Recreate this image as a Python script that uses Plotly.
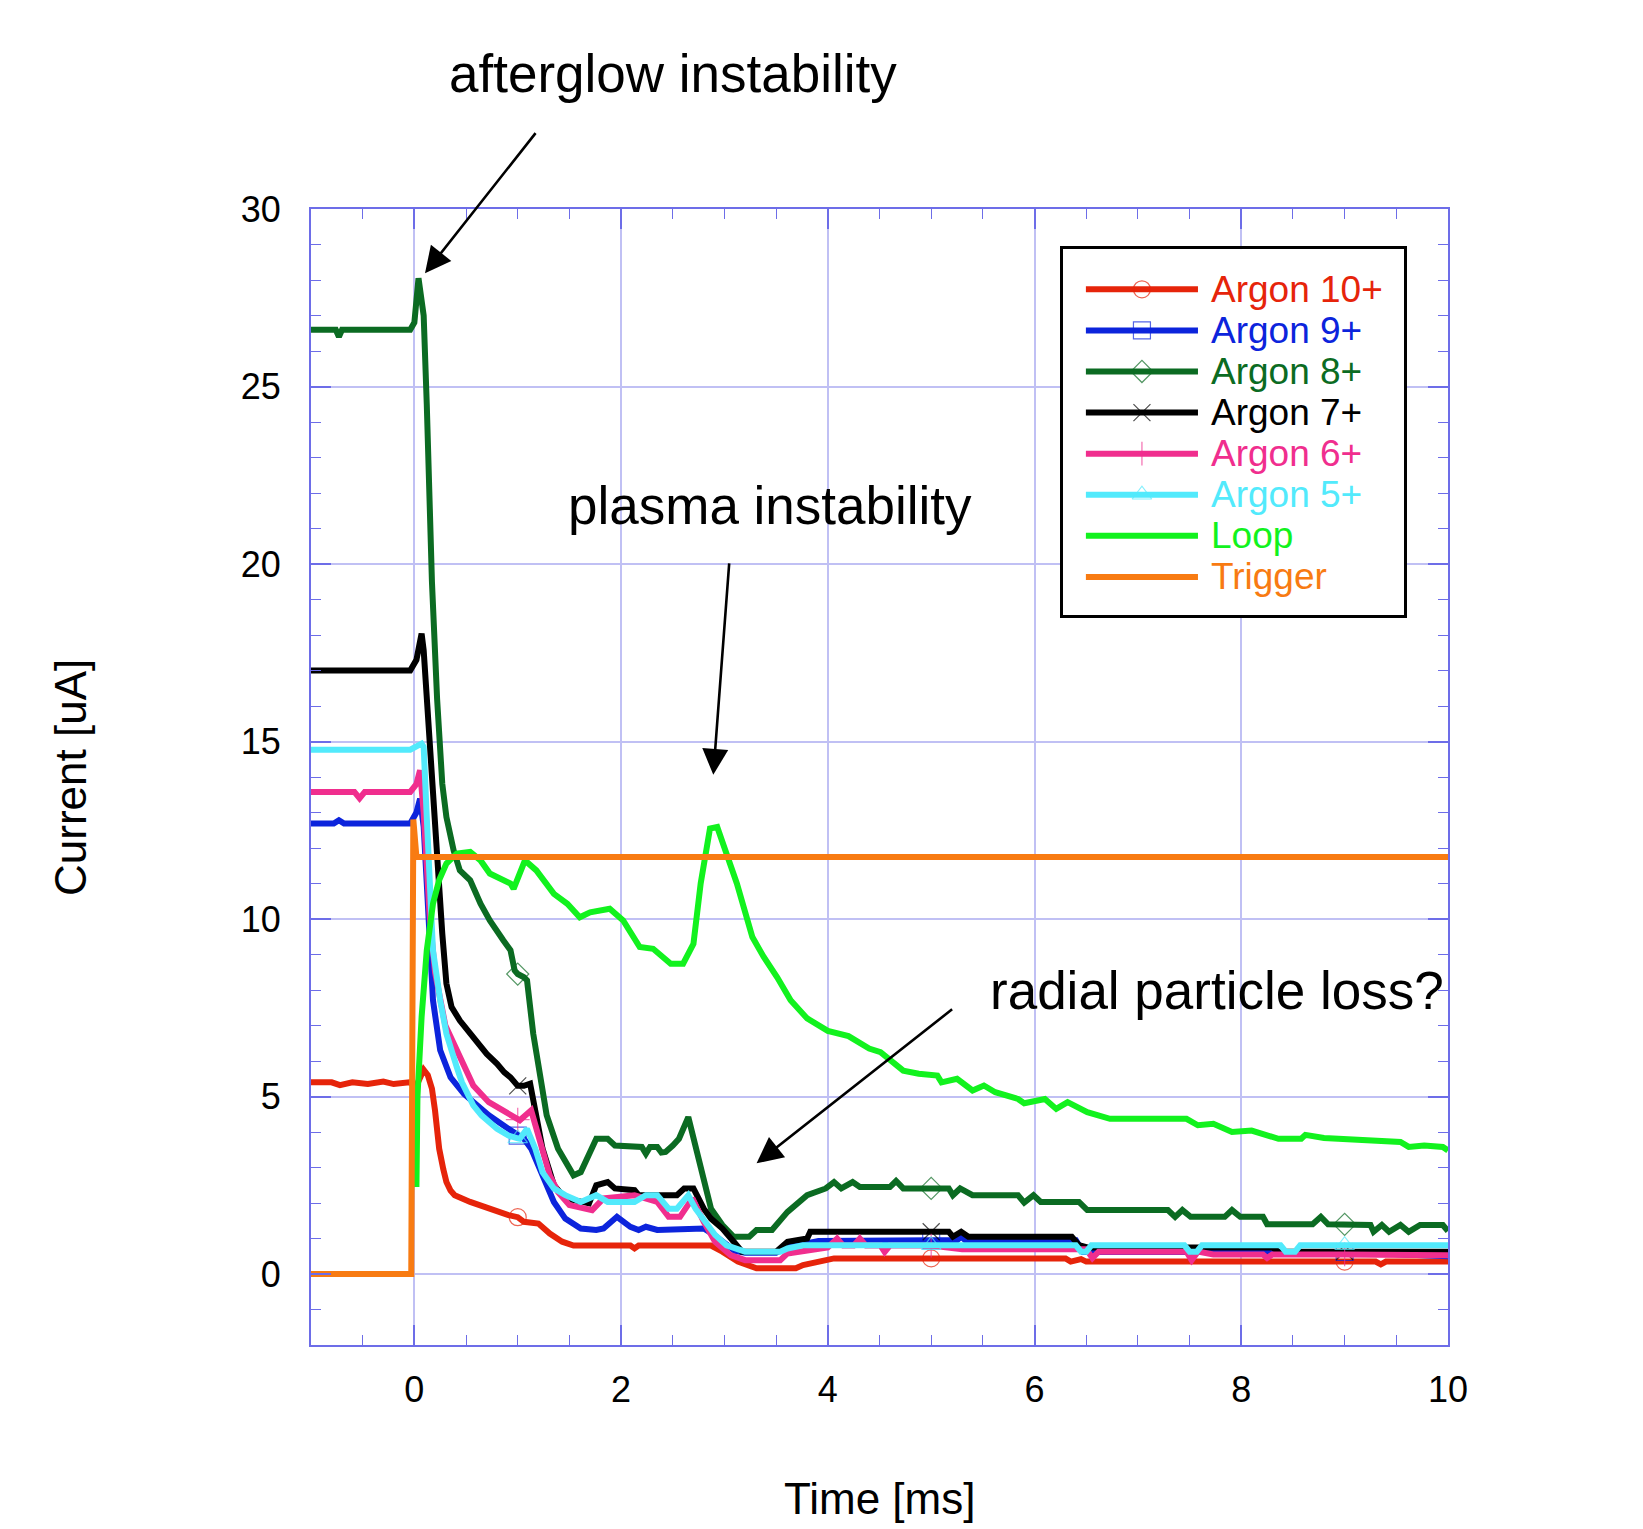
import plotly.graph_objects as go

# ---------------- data (time in ms, current in uA) ----------------
argon10 = [(-1.0, 5.40), (-0.8, 5.40), (-0.72, 5.32), (-0.6, 5.40), (-0.45, 5.35), (-0.3, 5.42),
           (-0.2, 5.35), (-0.05, 5.40), (0.02, 5.30), (0.09, 5.75), (0.13, 5.60), (0.17, 5.22),
           (0.20, 4.60), (0.24, 3.53), (0.28, 2.95), (0.31, 2.59), (0.35, 2.35), (0.39, 2.22),
           (0.54, 2.03), (0.72, 1.84), (0.91, 1.66), (1.0, 1.60), (1.06, 1.47), (1.20, 1.42),
           (1.31, 1.14), (1.43, 0.91), (1.54, 0.80), (2.09, 0.80), (2.13, 0.72), (2.17, 0.80),
           (2.87, 0.80), (2.98, 0.63), (3.13, 0.35), (3.31, 0.16), (3.69, 0.16), (3.76, 0.25),
           (3.91, 0.35), (4.06, 0.44), (5.0, 0.44), (6.30, 0.44), (6.35, 0.35), (6.45, 0.42),
           (6.50, 0.35), (7.17, 0.35), (8.5, 0.35), (9.0, 0.35), (9.30, 0.35), (9.35, 0.27),
           (9.40, 0.35), (10.0, 0.35)]

argon9 = [(-1.0, 12.69), (-0.78, 12.69), (-0.73, 12.78), (-0.68, 12.69), (-0.04, 12.69),
          (0.02, 13.0), (0.055, 13.39), (0.09, 12.6), (0.12, 11.0), (0.15, 9.12), (0.18, 7.71),
          (0.25, 6.30), (0.35, 5.54), (0.48, 5.07), (0.54, 4.93), (0.72, 4.47), (0.91, 4.09),
          (1.0, 3.90), (1.06, 3.81), (1.13, 3.53), (1.24, 2.78), (1.35, 2.03), (1.46, 1.56),
          (1.61, 1.28), (1.76, 1.24), (1.83, 1.28), (1.96, 1.61), (2.09, 1.33), (2.17, 1.24),
          (2.24, 1.33), (2.35, 1.24), (2.69, 1.24), (2.80, 1.28), (2.90, 1.10), (3.0, 0.85),
          (3.10, 0.65), (3.20, 0.60), (3.50, 0.60), (3.60, 0.75), (3.80, 0.85), (3.91, 0.93),
          (5.0, 0.95), (5.25, 0.95), (5.29, 1.05), (5.33, 0.95), (6.40, 0.95), (6.47, 0.62),
          (9.0, 0.62), (9.5, 0.55), (10.0, 0.50)]

argon8 = [(-1.0, 26.6), (-0.76, 26.6), (-0.73, 26.4), (-0.70, 26.6), (-0.04, 26.6), (0.0, 26.8),
          (0.04, 28.05), (0.09, 27.0), (0.12, 24.5), (0.17, 19.5), (0.22, 16.2), (0.27, 13.81),
          (0.31, 12.87), (0.38, 11.93), (0.44, 11.37), (0.54, 11.09), (0.64, 10.43), (0.73, 9.96),
          (0.86, 9.40), (0.93, 9.12), (0.97, 8.55), (1.0, 8.45), (1.06, 8.36), (1.09, 8.27),
          (1.15, 6.77), (1.20, 5.80), (1.28, 4.47), (1.39, 3.53), (1.54, 2.78), (1.61, 2.87),
          (1.76, 3.81), (1.87, 3.81), (1.94, 3.62), (2.20, 3.58), (2.24, 3.39), (2.28, 3.58),
          (2.35, 3.58), (2.39, 3.42), (2.43, 3.44), (2.50, 3.62), (2.56, 3.81), (2.65, 4.42),
          (2.72, 3.62), (2.80, 2.59), (2.87, 1.84), (2.98, 1.38), (3.09, 1.05), (3.24, 1.05),
          (3.31, 1.24), (3.46, 1.24), (3.61, 1.75), (3.80, 2.22), (3.98, 2.41), (4.06, 2.59),
          (4.13, 2.41), (4.24, 2.59), (4.31, 2.45), (4.60, 2.45), (4.66, 2.62), (4.73, 2.41),
          (5.0, 2.41), (5.17, 2.41), (5.21, 2.22), (5.28, 2.41), (5.40, 2.22), (5.84, 2.22),
          (5.90, 2.01), (5.99, 2.22), (6.06, 2.03), (6.43, 2.03), (6.51, 1.80), (7.29, 1.80),
          (7.36, 1.61), (7.43, 1.80), (7.51, 1.61), (7.84, 1.61), (7.91, 1.80), (7.99, 1.61),
          (8.21, 1.61), (8.25, 1.40), (8.69, 1.40), (8.77, 1.61), (8.84, 1.40), (9.0, 1.40),
          (9.25, 1.38), (9.28, 1.19), (9.36, 1.38), (9.43, 1.19), (9.54, 1.38), (9.62, 1.19),
          (9.73, 1.38), (9.95, 1.38), (10.0, 1.21)]

argon7 = [(-1.0, 17.0), (-0.04, 17.0), (0.02, 17.3), (0.07, 18.04), (0.09, 17.57), (0.15, 14.75),
          (0.22, 11.93), (0.27, 9.59), (0.31, 8.18), (0.36, 7.52), (0.44, 7.14), (0.57, 6.67),
          (0.70, 6.20), (0.80, 5.92), (0.87, 5.68), (0.93, 5.54), (1.0, 5.30), (1.06, 5.30),
          (1.12, 5.36), (1.17, 4.60), (1.24, 3.53), (1.35, 2.50), (1.46, 2.13), (1.69, 1.99),
          (1.76, 2.50), (1.87, 2.59), (1.94, 2.41), (2.13, 2.36), (2.17, 2.22), (2.54, 2.22),
          (2.61, 2.41), (2.70, 2.41), (2.80, 1.84), (2.87, 1.56), (2.98, 1.28), (3.09, 0.91),
          (3.17, 0.63), (3.50, 0.63), (3.61, 0.91), (3.80, 1.00), (3.83, 1.19), (5.0, 1.19),
          (5.17, 1.19), (5.21, 1.05), (5.29, 1.19), (5.36, 1.05), (6.36, 1.05), (6.43, 0.81),
          (6.51, 0.75), (8.30, 0.75), (8.36, 0.63), (9.0, 0.63), (10.0, 0.63)]

argon6 = [(-1.0, 13.58), (-0.58, 13.58), (-0.53, 13.40), (-0.48, 13.58), (-0.04, 13.58),
          (0.02, 13.8), (0.055, 14.19), (0.09, 13.0), (0.15, 10.0), (0.20, 8.5), (0.30, 7.0),
          (0.41, 6.30), (0.54, 5.45), (0.57, 5.31), (0.72, 4.84), (0.87, 4.56), (1.0, 4.35),
          (1.02, 4.33), (1.13, 4.61), (1.20, 3.90), (1.31, 2.78), (1.39, 2.31), (1.50, 1.94),
          (1.72, 1.80), (1.83, 2.13), (2.13, 2.22), (2.35, 2.03), (2.46, 1.61), (2.57, 1.61),
          (2.69, 2.13), (2.80, 1.47), (2.91, 0.91), (3.06, 0.53), (3.20, 0.39), (3.54, 0.39),
          (3.61, 0.58), (3.83, 0.67), (4.0, 0.75), (4.09, 1.00), (4.15, 0.80), (4.25, 0.80),
          (4.31, 1.00), (4.37, 0.80), (4.51, 0.80), (4.55, 0.62), (4.60, 0.80), (5.0, 0.80),
          (5.30, 0.70), (6.50, 0.70), (6.56, 0.45), (6.62, 0.63), (7.47, 0.63), (7.52, 0.39),
          (7.58, 0.63), (7.73, 0.55), (8.21, 0.55), (8.25, 0.45), (8.30, 0.55), (9.0, 0.55),
          (10.0, 0.53)]

argon5 = [(-1.0, 14.77), (-0.04, 14.77), (0.07, 14.94), (0.09, 14.85), (0.12, 12.87),
          (0.15, 10.99), (0.18, 9.12), (0.25, 7.71), (0.31, 6.77), (0.41, 5.83), (0.46, 5.40),
          (0.57, 4.75), (0.65, 4.47), (0.80, 4.09), (0.91, 3.90), (1.0, 3.82), (1.02, 3.81),
          (1.09, 4.09), (1.17, 3.53), (1.24, 2.87), (1.35, 2.41), (1.46, 2.22), (1.61, 2.03),
          (1.76, 2.22), (1.87, 2.03), (2.13, 2.03), (2.24, 2.22), (2.35, 2.22), (2.46, 1.84),
          (2.54, 1.84), (2.65, 2.22), (2.72, 1.84), (2.83, 1.38), (2.91, 1.10), (3.02, 0.81),
          (3.20, 0.63), (3.54, 0.63), (3.61, 0.72), (3.76, 0.81), (5.0, 0.81), (6.40, 0.81),
          (6.45, 0.63), (6.50, 0.63), (6.55, 0.81), (7.45, 0.81), (7.50, 0.63), (7.57, 0.63),
          (7.62, 0.81), (8.38, 0.81), (8.43, 0.63), (8.52, 0.63), (8.57, 0.81), (9.0, 0.81),
          (10.0, 0.81)]

loop = [(0.02, 2.45), (0.03, 5.0), (0.07, 7.24), (0.12, 9.12), (0.18, 10.43), (0.24, 11.1),
        (0.31, 11.56), (0.41, 11.84), (0.54, 11.89), (0.64, 11.65), (0.73, 11.28), (0.93, 11.0),
        (0.96, 10.85), (1.07, 11.65), (1.18, 11.37), (1.35, 10.71), (1.48, 10.43), (1.60, 10.05),
        (1.70, 10.19), (1.89, 10.29), (2.02, 9.96), (2.18, 9.21), (2.31, 9.16), (2.48, 8.74),
        (2.60, 8.74), (2.70, 9.30), (2.77, 11.0), (2.86, 12.55), (2.93, 12.59), (3.02, 11.84),
        (3.12, 11.0), (3.27, 9.49), (3.38, 8.93), (3.51, 8.36), (3.64, 7.71), (3.80, 7.20),
        (4.0, 6.85), (4.20, 6.70), (4.40, 6.35), (4.51, 6.25), (4.73, 5.73), (4.88, 5.64),
        (5.06, 5.59), (5.10, 5.40), (5.25, 5.50), (5.40, 5.17), (5.51, 5.31), (5.62, 5.12),
        (5.84, 4.93), (5.90, 4.81), (6.10, 4.93), (6.21, 4.65), (6.32, 4.84), (6.51, 4.56),
        (6.73, 4.37), (7.47, 4.37), (7.58, 4.19), (7.73, 4.23), (7.91, 4.00), (8.10, 4.04),
        (8.36, 3.81), (8.58, 3.81), (8.62, 3.92), (8.80, 3.83), (9.54, 3.72), (9.62, 3.58),
        (9.77, 3.62), (9.95, 3.58), (10.0, 3.48)]

trigger = [(-1.0, 0.0), (-0.03, 0.0), (-0.01, 12.8), (0.02, 11.75), (10.0, 11.75)]

series_names = ["Argon 10+", "Argon 9+", "Argon 8+", "Argon 7+", "Argon 6+", "Argon 5+",
                "Loop", "Trigger"]
series_data = [argon10, argon9, argon8, argon7, argon6, argon5, loop, trigger]
series_colors = ["#e6240a", "#0c24dc", "#0b6b22", "#000000", "#f02e8e", "#52eafc",
                 "#12f21e", "#f87b12"]
series_symbols = ["circle-open", "square-open", "diamond-open", "x-thin-open",
                  "cross-thin-open", "triangle-up-open", None, None]
marker_times = [1.0, 5.0, 9.0]

x_ticks = [0, 2, 4, 6, 8, 10]
y_ticks = [0, 5, 10, 15, 20, 25, 30]

# ---------------- styling ----------------
FONT = "Liberation Sans, Arial, Helvetica, sans-serif"
AXIS_COLOR = "#6d6de8"
GRID_COLOR = "#c0c0f4"
LINE_W = 6
MARKER_SIZE = 17

fig = go.Figure()

for name, pts, color, sym in zip(series_names, series_data, series_colors, series_symbols):
    xs = [p[0] for p in pts]
    ys = [p[1] for p in pts]
    if sym is None:
        fig.add_trace(go.Scatter(x=xs, y=ys, mode="lines", name=name,
                                 line=dict(color=color, width=LINE_W), showlegend=False))
    else:
        sizes = [MARKER_SIZE if x in marker_times else 0 for x in xs]
        fig.add_trace(go.Scatter(x=xs, y=ys, mode="lines+markers", name=name,
                                 line=dict(color=color, width=LINE_W),
                                 marker=dict(symbol=sym, size=sizes, color=color,
                                             line=dict(width=1.2, color=color)),
                                 showlegend=False))

# ---------------- legend (drawn in an inset axes) ----------------
LEG_LINE_X = [0.068, 0.232, 0.396]
LEG_TEXT_X = 0.429
for i, (name, color, sym) in enumerate(zip(series_names, series_colors, series_symbols)):
    if sym is None:
        fig.add_trace(go.Scatter(x=LEG_LINE_X, y=[i, i, i], mode="lines", xaxis="x2", yaxis="y2",
                                 line=dict(color=color, width=LINE_W), showlegend=False,
                                 hoverinfo="skip"))
    else:
        fig.add_trace(go.Scatter(x=LEG_LINE_X, y=[i, i, i], mode="lines+markers", xaxis="x2",
                                 yaxis="y2", line=dict(color=color, width=LINE_W),
                                 marker=dict(symbol=sym, size=[0, MARKER_SIZE, 0], color=color,
                                             line=dict(width=1.2, color=color)),
                                 showlegend=False, hoverinfo="skip"))

annotations = []
for i, (name, color) in enumerate(zip(series_names, series_colors)):
    annotations.append(dict(x=LEG_TEXT_X, y=i, xref="x2", yref="y2", text=name,
                            showarrow=False, xanchor="left", yanchor="middle",
                            font=dict(family=FONT, size=37, color=color)))

# ---------------- annotations ----------------
TXT = dict(family=FONT, size=53, color="black")
annotations += [
    dict(x=0.3184, y=1.1197, xref="paper", yref="paper", text="afterglow instability",
         showarrow=False, xanchor="center", yanchor="middle", font=TXT),
    dict(x=0.4037, y=0.7394, xref="paper", yref="paper", text="plasma instability",
         showarrow=False, xanchor="center", yanchor="middle", font=TXT),
    dict(x=0.7968, y=0.3125, xref="paper", yref="paper", text="radial particle loss?",
         showarrow=False, xanchor="center", yanchor="middle", font=TXT),
]
ARROW = dict(text="", showarrow=True, arrowhead=2, arrowsize=2.0, arrowwidth=2.6,
             arrowcolor="black", xref="x", yref="y", axref="x", ayref="y", standoff=0,
             startstandoff=0)
annotations += [
    dict(x=0.103, y=28.19, ax=1.184, ay=32.18, **ARROW),
    dict(x=2.892, y=14.06, ax=3.047, ay=20.06, **ARROW),
    dict(x=3.311, y=3.12, ax=5.217, ay=7.49, **ARROW),
]
# axis titles
annotations += [
    dict(x=0.5, y=-0.1355, xref="paper", yref="paper", text="Time [ms]", showarrow=False,
         xanchor="center", yanchor="middle", font=dict(family=FONT, size=44, color="black")),
    dict(x=-0.212, y=0.5, xref="paper", yref="paper", text="Current [uA]", showarrow=False,
         textangle=-90, xanchor="center", yanchor="middle",
         font=dict(family=FONT, size=44, color="black")),
]

axis_common = dict(
    ticks="inside", ticklen=20, tickwidth=1.5, tickcolor=AXIS_COLOR,
    showline=True, linecolor=AXIS_COLOR, linewidth=2, mirror="ticks",
    showgrid=True, gridcolor=GRID_COLOR, gridwidth=1.5, zeroline=False,
    tickfont=dict(family=FONT, size=36, color="black"),
)

# the page body adds an 8 px offset; the margins below compensate for it
fig.update_layout(
    width=1635, height=1521,
    margin=dict(l=303, r=195, t=201, b=184),
    paper_bgcolor="white", plot_bgcolor="white",
    showlegend=False,
    xaxis=dict(range=[-1, 10], tickmode="array", tickvals=x_ticks,
               ticktext=[str(v) for v in x_ticks], ticklabelstandoff=12,
               minor=dict(dtick=0.5, tick0=0, ticks="inside", ticklen=10, tickwidth=1.2,
                          tickcolor=AXIS_COLOR, showgrid=False),
               **axis_common),
    yaxis=dict(range=[-2, 30], tickmode="array", tickvals=y_ticks,
               ticktext=[str(v) for v in y_ticks], ticklabelstandoff=21,
               minor=dict(dtick=1, tick0=0, ticks="inside", ticklen=10, tickwidth=1.2,
                          tickcolor=AXIS_COLOR, showgrid=False),
               **axis_common),
    xaxis2=dict(domain=[0.6611, 0.9616], anchor="y2", range=[0, 1], showgrid=False,
                zeroline=False, showticklabels=False, ticks="", showline=True, mirror=True,
                linecolor="black", linewidth=3, fixedrange=True),
    yaxis2=dict(domain=[0.6426, 0.9645], anchor="x2", range=[7.927, -0.973], showgrid=False,
                zeroline=False, showticklabels=False, ticks="", showline=True, mirror=True,
                linecolor="black", linewidth=3, fixedrange=True),
    shapes=[dict(type="rect", xref="x2", yref="y2", x0=0, x1=1, y0=-0.973, y1=7.927,
                 fillcolor="white", line=dict(width=0), layer="below")],
    annotations=annotations,
)

fig.write_html("out.html")
